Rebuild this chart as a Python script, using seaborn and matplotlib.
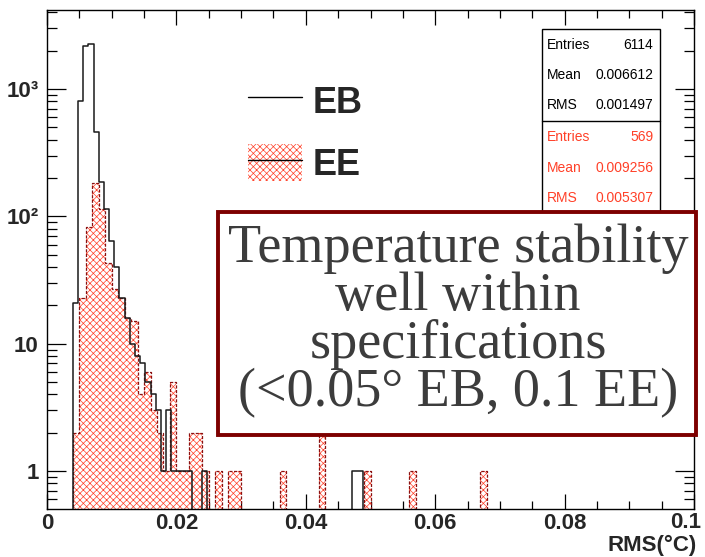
import numpy as np
import pandas as pd
import matplotlib
matplotlib.use("Agg")
import matplotlib.pyplot as plt
import seaborn as sns
from matplotlib.patches import Rectangle, Patch
from matplotlib.lines import Line2D
from matplotlib.legend_handler import HandlerTuple
from matplotlib.ticker import MultipleLocator, LogLocator, FixedLocator, NullFormatter

# ---- data: per-channel temperature RMS histograms ----
# EB: 125 bins on [0, 0.1]  (bin width 0.0008)
eb_low = [0.0040, 0.0048, 0.0056, 0.0064, 0.0072, 0.0080, 0.0088, 0.0096,
          0.0104, 0.0112, 0.0120, 0.0128, 0.0136, 0.0144, 0.0152, 0.0160,
          0.0168, 0.0176, 0.0184, 0.0192, 0.0200, 0.0208, 0.0216, 0.0240,
          0.0472, 0.0480]
eb_count = [21, 811, 2182, 2250, 463, 187, 115, 64,
            40, 23, 16, 10, 8, 7, 5, 4,
            3, 1, 3, 1, 1, 1, 1, 1,
            1, 1]
# EE: 100 bins on [0, 0.1]  (bin width 0.001)
ee_low = [0.004, 0.005, 0.006, 0.007, 0.008, 0.009, 0.010, 0.011, 0.012,
          0.013, 0.014, 0.015, 0.016, 0.017, 0.018, 0.019, 0.020, 0.021,
          0.022, 0.023, 0.024, 0.026, 0.028, 0.029, 0.036, 0.042, 0.049,
          0.056, 0.067]
ee_count = [2, 23, 82, 184, 115, 43, 27, 23, 16,
            15, 4, 6, 3, 2, 1, 5, 1, 1,
            2, 2, 1, 1, 1, 1, 1, 2, 1,
            1, 1]

eb_stats = [("Entries", "6114"), ("Mean", "0.006612"), ("RMS", "0.001497")]
ee_stats = [("Entries", "569"), ("Mean", "0.009256"), ("RMS", "0.005307")]

x_ticks = [0, 0.02, 0.04, 0.06, 0.08, 0.1]
x_ticklabels = ["0", "0.02", "0.04", "0.06", "0.08", "0.1"]
y_ticks = [1, 10, 100, 1000]
y_ticklabels = ["1", "10", "10\u00b2", "10\u00b3"]

note_lines = ["Temperature stability", "well within", "specifications",
              "(<0.05\u00b0 EB, 0.1 EE)"]

# ---- style ----
sns.set_style("ticks")
plt.rcParams["font.family"] = ["Liberation Sans", "DejaVu Sans"]
plt.rcParams["hatch.linewidth"] = 0.5

W, H = 705, 557
fig = plt.figure(figsize=(W / 100, H / 100), dpi=100)
fig.patch.set_facecolor("white")


def fx(px):
    return px / W


def fy(py):
    return 1 - py / H


ax = fig.add_axes([fx(47), fy(509), fx(694) - fx(47), fy(10) - fy(509)])

RED = "#ff4028"
EB_W = 0.0008
EE_W = 0.001
eb_df = pd.DataFrame({"rms": np.array(eb_low) + EB_W / 2,
                      "n": np.array(eb_count, dtype=float)})
ee_df = pd.DataFrame({"rms": np.array(ee_low) + EE_W / 2,
                      "n": np.array(ee_count, dtype=float)})

# EE: hatched red fill, then dashed dark-red outline
sns.histplot(data=ee_df, x="rms", weights="n", bins=100, binrange=(0, 0.1),
             element="step", fill=True, facecolor="white", edgecolor=RED,
             hatch="xxxxx", linewidth=0, ax=ax)
sns.histplot(data=ee_df, x="rms", weights="n", bins=100, binrange=(0, 0.1),
             element="step", fill=False, color="#8a1010", linewidth=0.9,
             linestyle=(0, (2.5, 1.2)), ax=ax)
# EB: black outline
sns.histplot(data=eb_df, x="rms", weights="n", bins=125, binrange=(0, 0.1),
             element="step", fill=False, color="#1a1a1a", linewidth=1.1,
             ax=ax)

ax.set_yscale("log")
ax.set_xlim(0, 0.1)
ax.set_ylim(0.503, 4180)
ax.set_xlabel("")
ax.set_ylabel("")

for s in ax.spines.values():
    s.set_visible(True)
    s.set_color("black")
    s.set_linewidth(1.0)

ax.xaxis.set_major_locator(FixedLocator(x_ticks))
ax.xaxis.set_minor_locator(MultipleLocator(0.005))
# the last label is placed by hand so that it stays inside the canvas
ax.set_xticklabels(x_ticklabels[:-1] + [""])
ax.yaxis.set_major_locator(FixedLocator(y_ticks))
ax.yaxis.set_minor_locator(LogLocator(base=10, subs=np.arange(2, 10)))
ax.yaxis.set_minor_formatter(NullFormatter())
ax.set_yticklabels(y_ticklabels)

ax.tick_params(which="both", direction="in", top=True, right=True,
               color="black", width=0.9)
ax.tick_params(axis="x", which="major", length=11, pad=3)
ax.tick_params(axis="x", which="minor", length=5.5)
ax.tick_params(axis="y", which="major", length=14, pad=6)
ax.tick_params(axis="y", which="minor", length=7)
for lab in ax.get_xticklabels() + ax.get_yticklabels():
    lab.set_fontsize(16)
    lab.set_fontweight("bold")

fig.text(fx(686), fy(512), x_ticklabels[-1], ha="center", va="top",
         fontsize=16, fontweight="bold")
fig.text(fx(697), fy(545), "RMS(\u00b0C)", ha="right", va="center",
         fontsize=16, fontweight="bold")

# legend
h_eb = Line2D([], [], color="black", lw=1.0)
h_ee = (Patch(facecolor="white", edgecolor=RED, hatch="xxxxx", lw=0),
        Line2D([], [], color="black", lw=1.0))
leg = ax.legend([h_eb, h_ee], ["EB", "EE"],
                handler_map={tuple: HandlerTuple(ndivide=1, pad=0)},
                loc="upper left", bbox_to_anchor=(fx(248), fy(82)),
                bbox_transform=fig.transFigure, frameon=False,
                prop={"size": 26, "weight": "bold"},
                handlelength=1.5, handleheight=1.2, labelspacing=0.65,
                handletextpad=0.3, borderpad=0, borderaxespad=0)

# statistics box
fig.add_artist(Rectangle((fx(541.7), fy(213)), fx(660) - fx(541.7),
                         fy(29.3) - fy(213), transform=fig.transFigure,
                         facecolor="white", edgecolor="black", lw=1.0,
                         zorder=5))
fig.add_artist(Line2D([fx(541.7), fx(660)], [fy(121), fy(121)],
                      transform=fig.transFigure, color="black", lw=1.0,
                      zorder=6))
for rows, ys, col in [(eb_stats, [45, 75, 105], "black"),
                      (ee_stats, [137, 168, 198], RED)]:
    for (name, val), yy in zip(rows, ys):
        fig.text(fx(546.5), fy(yy), name, ha="left", va="center",
                 fontsize=10, color=col, zorder=7)
        fig.text(fx(653.5), fy(yy), val, ha="right", va="center",
                 fontsize=10, color=col, zorder=7)

# note box
fig.add_artist(Rectangle((fx(218), fy(435)), fx(696) - fx(218),
                         fy(212) - fy(435), transform=fig.transFigure,
                         facecolor="white", edgecolor="#7d0000", lw=2.8,
                         zorder=8))
for line, base in zip(note_lines, [262, 310, 358, 406]):
    fig.text(fx(458), fy(base), line, ha="center", va="baseline",
             fontsize=39, family=["Liberation Serif", "DejaVu Serif"],
             color="#3c3c3c", zorder=9)

fig.savefig("out.png", dpi=100, facecolor="white")
